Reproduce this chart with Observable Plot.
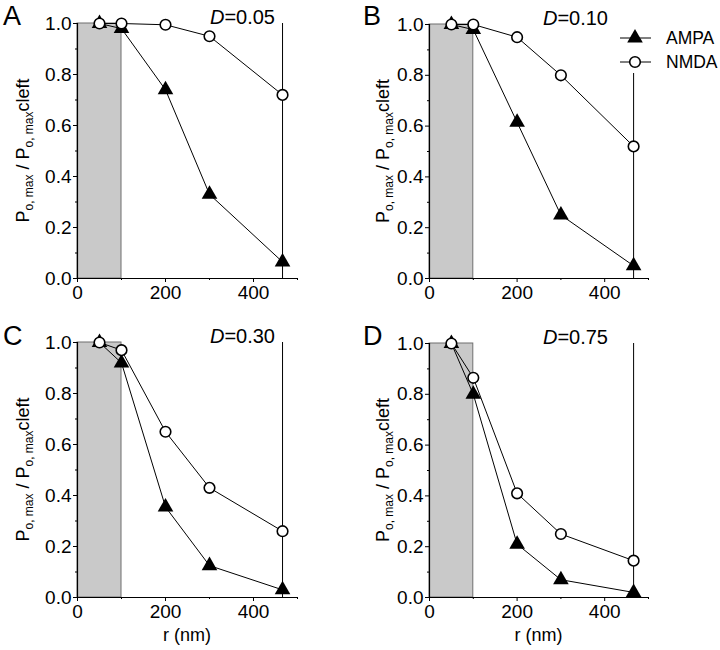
<!DOCTYPE html>
<html><head><meta charset="utf-8">
<script src="https://cdn.jsdelivr.net/npm/d3@7"></script>
<script src="https://cdn.jsdelivr.net/npm/@observablehq/plot@0.6"></script>
<style>
body{margin:0;background:#fff;}
#fig{position:relative;width:720px;height:650px;font-family:"Liberation Sans",Arial,sans-serif;}
.panel{position:absolute;}
</style></head><body><div id="fig"></div>
<script>
// ---- data ----
const radii = [50, 100, 200, 300, 466];
const panelLetters = ["A", "B", "C", "D"];
const diffusion = ["0.05", "0.10", "0.30", "0.75"];
const ampaA = [1.0, 0.98, 0.74, 0.33, 0.065];
const nmdaA = [1.0, 1.0, 0.995, 0.95, 0.72];
const ampaB = [1.0, 0.98, 0.615, 0.25, 0.05];
const nmdaB = [1.0, 1.0, 0.95, 0.80, 0.52];
const ampaC = [1.0, 0.92, 0.355, 0.125, 0.03];
const nmdaC = [1.0, 0.97, 0.65, 0.43, 0.26];
const ampaD = [1.0, 0.80, 0.21, 0.07, 0.02];
const nmdaD = [1.0, 0.865, 0.41, 0.25, 0.145];
const cleftRadius = 100;
const edgeRadius = 466;
const xTicks = [0, 200, 400];
const xMinor = [100, 300, 500];
const yTicks = [0, 0.2, 0.4, 0.6, 0.8, 1.0];
const yMinor = [0.1, 0.3, 0.5, 0.7, 0.9];
const seriesNames = ["AMPA", "NMDA"];

const ampaSets = [ampaA, ampaB, ampaC, ampaD];
const nmdaSets = [nmdaA, nmdaB, nmdaC, nmdaD];

const FONT = '"Liberation Sans", Arial, sans-serif';
const layout = [
  {left: 0,   top: 0,   height: 320, mt: 23, mb: 42, ml: 77, mr: 63, dOff: 22},
  {left: 360, top: 0,   height: 320, mt: 24, mb: 42, ml: 69, mr: 72, dOff: 40},
  {left: 0,   top: 320, height: 330, mt: 22, mb: 53, ml: 77, mr: 63, dOff: 22},
  {left: 360, top: 320, height: 330, mt: 23, mb: 53, ml: 69, mr: 72, dOff: 40}
];

const fig = document.getElementById("fig");

panelLetters.forEach((letter, i) => {
  const L = layout[i];
  const ampa = radii.map((r, k) => ({r, p: ampaSets[i][k]}));
  const nmda = radii.map((r, k) => ({r, p: nmdaSets[i][k]}));
  const plot = Plot.plot({
    width: 360, height: L.height,
    marginTop: L.mt, marginBottom: L.mb, marginLeft: L.ml, marginRight: L.mr,
    style: {fontFamily: FONT, fontSize: "18px", color: "black", background: "white", overflow: "visible"},
    x: {domain: [0, 500]},
    y: {domain: [0, 1]},
    marks: [
      Plot.rect([{x1: 0, x2: cleftRadius, y1: 0, y2: 1}], {x1: "x1", x2: "x2", y1: "y1", y2: "y2", fill: "#c9c9c9", stroke: "#6f6f6f", strokeWidth: 1}),
      Plot.ruleX([edgeRadius], {y1: 0, y2: 1, stroke: "black", strokeWidth: 1}),
      Plot.ruleY([0], {stroke: "black", strokeWidth: 1.2}),
      Plot.ruleX([0], {stroke: "black", strokeWidth: 1.2}),
      Plot.axisX({ticks: xTicks, tickSize: 4, tickPadding: 3, tickFormat: d3.format("d"), fontSize: 19, label: null}),
      Plot.axisX({ticks: xMinor, tickSize: 2, tickFormat: () => "", label: null}),
      Plot.axisY({ticks: yTicks, tickSize: 4, tickPadding: 2, tickFormat: d3.format(".1f"), fontSize: 19, label: null}),
      Plot.axisY({ticks: yMinor, tickSize: 2, tickFormat: () => "", label: null}),
      Plot.line(ampa, {x: "r", y: "p", stroke: "black", strokeWidth: 1}),
      Plot.line(nmda, {x: "r", y: "p", stroke: "black", strokeWidth: 1}),
      Plot.dot(ampa, {x: "r", y: "p", symbol: "triangle", fill: "black", r: 5.8}),
      Plot.dot(nmda, {x: "r", y: "p", symbol: "circle", fill: "white", stroke: "black", strokeWidth: 1.6, r: 5.3})
    ]
  });
  const wrap = document.createElement("div");
  wrap.className = "panel";
  wrap.style.left = L.left + "px";
  wrap.style.top = L.top + "px";
  wrap.appendChild(plot);
  fig.appendChild(wrap);

  const svg = d3.select(plot);
  const xs = plot.scale("x"), ys = plot.scale("y");
  const x = v => xs.apply(v), y = v => ys.apply(v);

  // panel letter
  svg.append("text").attr("x", 3).attr("y", 25).attr("text-anchor", "start")
    .attr("font-size", 27).attr("font-family", FONT).attr("fill", "black").text(letter);

  // D= label
  const dl = svg.append("text").attr("x", x(500) - L.dOff).attr("y", y(1) + 0.5)
    .attr("text-anchor", "end").attr("font-size", 20).attr("font-family", FONT).attr("fill", "black");
  dl.append("tspan").attr("font-style", "italic").text("D");
  dl.append("tspan").text("=" + diffusion[i]);

  // y label
  const yc = (y(0) + y(1)) / 2;
  const t = svg.append("text").attr("transform", `translate(29,${yc}) rotate(-90)`)
    .attr("text-anchor", "middle").attr("font-size", 18).attr("font-family", FONT).attr("fill", "black");
  t.append("tspan").text("P");
  t.append("tspan").attr("font-size", 12).attr("dy", 4).text("o, max");
  t.append("tspan").attr("dy", -4).text(" / P");
  t.append("tspan").attr("font-size", 12).attr("dy", 4).text("o, max");
  t.append("tspan").attr("dy", -4).text("cleft");

  // x label on bottom row
  if (i >= 2) {
    svg.append("text").attr("x", x(250)).attr("y", 321).attr("text-anchor", "middle")
      .attr("font-size", 18).attr("font-family", FONT).attr("fill", "black").text("r (nm)");
  }

  // legend in panel B
  if (i === 1) {
    const g = svg.append("g");
    g.append("rect").attr("x", 256).attr("y", 18).attr("width", 104).attr("height", 55).attr("fill", "white");
    seriesNames.forEach((name, k) => {
      const ly = 38 + k * 24;
      g.append("line").attr("x1", 260).attr("x2", 291).attr("y1", ly).attr("y2", ly).attr("stroke", "black").attr("stroke-width", 1);
      if (k === 0) {
        g.append("path").attr("transform", `translate(275,${ly})`).attr("d", d3.symbol(d3.symbolTriangle, Math.PI * 5.8 * 5.8)()).attr("fill", "black");
      } else {
        g.append("circle").attr("cx", 275).attr("cy", ly).attr("r", 5.3).attr("fill", "white").attr("stroke", "black").attr("stroke-width", 1.6);
      }
      g.append("text").attr("x", 306).attr("y", ly).attr("dy", "0.36em").attr("text-anchor", "start")
        .attr("font-size", 17.5).attr("font-family", FONT).attr("fill", "black").text(name);
    });
  }
});
</script></body></html>
